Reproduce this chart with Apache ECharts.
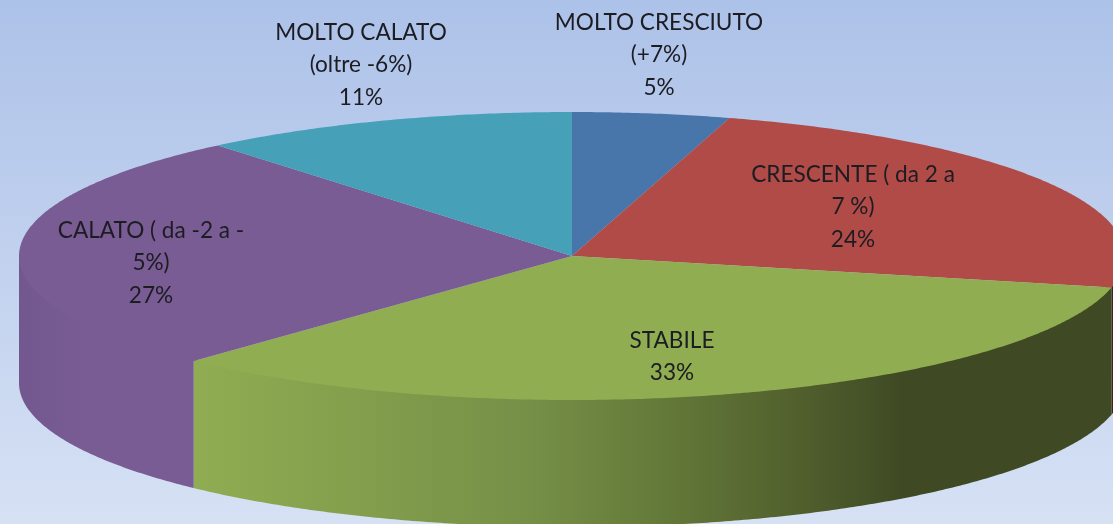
<!DOCTYPE html>
<html>
<head>
<meta charset="utf-8">
<style>html,body{margin:0;padding:0;overflow:hidden}#c{width:1113px;height:524px}</style>
<script src="https://cdn.jsdelivr.net/npm/echarts@6/dist/echarts.min.js"></script>
</head>
<body>
<div id="c"></div>
<script>
const categories = ['MOLTO CRESCIUTO\n(+7%)', 'CRESCENTE ( da 2 a\n7 %)', 'STABILE', 'CALATO ( da -2 a -\n5%)', 'MOLTO CALATO\n(oltre -6%)'];
const shares = [4.6, 23.9, 33.49, 26.95, 11.06];
const topColors = ['#4876ab', '#b04b48', '#90ad52', '#785c93', '#46a0b8'];
const labelX = [659, 853, 672, 151, 361];
const labelY = [6, 158, 324, 214, 16];

const CX = 572, CY = 256, RX = 553, RY = 144, DEPTH = 127;
const total = shares.reduce((a, b) => a + b, 0);
const pt = (deg, dy, k) => {
  const t = deg * Math.PI / 180, f = k === undefined ? 1 : k;
  return [CX + f * RX * Math.sin(t), CY - f * RY * Math.cos(t) + (dy || 0)];
};
const arc = (a, b, dy, k) => {
  const out = [], n = Math.max(2, Math.ceil(Math.abs(b - a) * 2));
  for (let i = 0; i <= n; i++) out.push(pt(a + (b - a) * i / n, dy, k));
  return out;
};
const grad = stops => new echarts.graphic.LinearGradient(192, 0, 1113, 0, stops, true);
const sideFill = [
  '#4876ab',
  '#4a1e1d',
  grad([
    { offset: 0, color: '#90ad52' }, { offset: 0.37, color: '#768f47' },
    { offset: 0.52, color: '#627838' }, { offset: 0.66, color: '#515f2d' },
    { offset: 0.77, color: '#3f4a24' }, { offset: 1, color: '#3f4a24' }
  ]),
  new echarts.graphic.LinearGradient(19, 0, 192, 0, [
    { offset: 0, color: '#735890' }, { offset: 0.4, color: '#785c93' }, { offset: 1, color: '#785c93' }
  ], true),
  '#46a0b8'
];

function renderItem(params, api) {
  const i = params.dataIndex;
  let before = 0;
  for (let k = 0; k < i; k++) before += shares[k];
  const a = before / total * 360;
  const b = a + api.value(0) / total * 360;
  const children = [];
  const s = Math.max(a, 90), e = Math.min(b, 270);
  if (e > s) {
    children.push({
      type: 'polygon',
      z2: 1,
      shape: { points: [pt(s, 0)].concat(arc(s, e, 0, 0.99), [pt(e, 0)], arc(e, s, DEPTH)) },
      style: { fill: sideFill[i] }
    });
  }
  children.push({
    type: 'polygon',
    z2: 5,
    shape: { points: [[CX, CY]].concat(arc(a, b, 0)) },
    style: { fill: topColors[i] }
  });
  children.push({
    type: 'text',
    z2: 10,
    style: {
      x: labelX[i], y: labelY[i],
      text: categories[i] + '\n' + Math.round(api.value(0) / total * 100) + '%',
      align: 'center', verticalAlign: 'top',
      font: '22.6px Lato', lineHeight: 32.5, fill: '#1c1c22'
    }
  });
  return { type: 'group', children };
}

const chart = echarts.init(document.getElementById('c'), null, { renderer: 'canvas' });
chart.setOption({
  animation: false,
  backgroundColor: new echarts.graphic.LinearGradient(0, 0, 0, 1, [
    { offset: 0, color: '#adc2e9' }, { offset: 1, color: '#d6e1f4' }
  ]),
  series: [{
    type: 'custom',
    coordinateSystem: 'none',
    renderItem,
    data: shares.map(v => [v]),
    silent: true
  }]
});
</script>
</body>
</html>
